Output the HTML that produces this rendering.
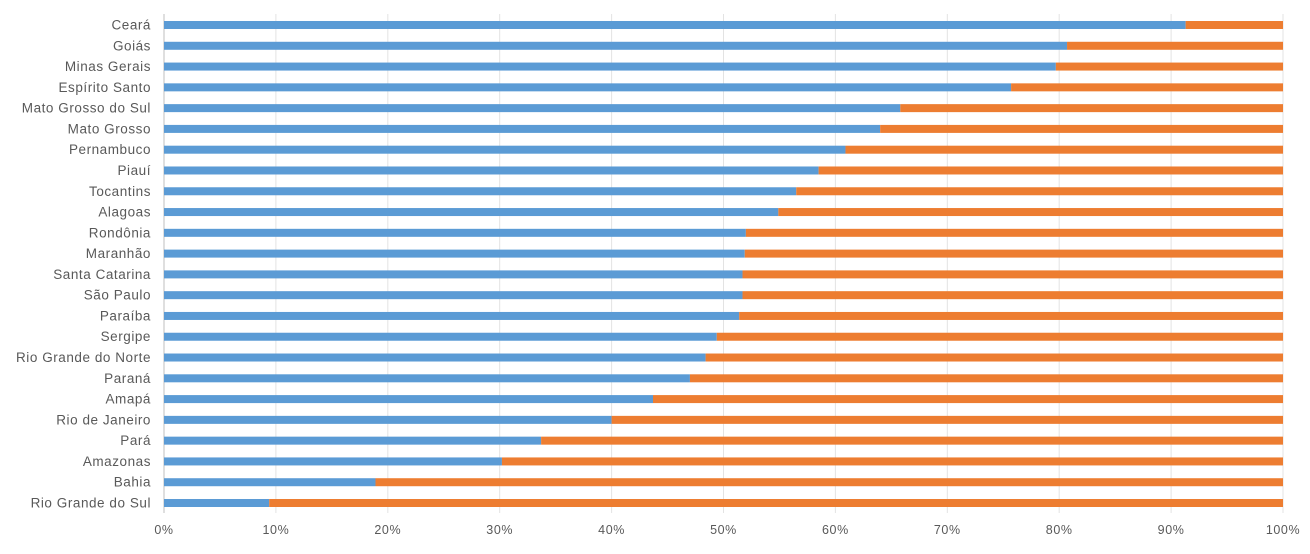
<!DOCTYPE html>
<html><head><meta charset="utf-8"><style>
body{margin:0;background:#fff;}
svg text{font-family:"Liberation Sans",sans-serif;fill:#595959;}
</style></head><body>
<svg id="chart" width="1310" height="549" xmlns="http://www.w3.org/2000/svg"></svg>
<script>
const categories=["Ceará","Goiás","Minas Gerais","Espírito Santo","Mato Grosso do Sul","Mato Grosso","Pernambuco","Piauí","Tocantins","Alagoas","Rondônia","Maranhão","Santa Catarina","São Paulo","Paraíba","Sergipe","Rio Grande do Norte","Paraná","Amapá","Rio de Janeiro","Pará","Amazonas","Bahia","Rio Grande do Sul"];
const seriesA=[91.3,80.7,79.7,75.7,65.8,64.0,60.9,58.5,56.5,54.9,52.0,51.9,51.7,51.7,51.4,49.4,48.4,47.0,43.7,40.0,33.7,30.2,18.9,9.4];
const seriesB=seriesA.map(v=>100-v);
const ticks=[0,10,20,30,40,50,60,70,80,90,100];
const tickLabels=["0%","10%","20%","30%","40%","50%","60%","70%","80%","90%","100%"];
const svg=document.getElementById('chart');
const NS='http://www.w3.org/2000/svg';
const x0=164,x1=1283,yTop=25,step=(503-25)/23,bh=8;
const xs=v=>x0+(x1-x0)*v/100;
const ys=i=>yTop+i*step;
function mk(t,a){const e=document.createElementNS(NS,t);for(const k in a)e.setAttribute(k,a[k]);svg.appendChild(e);return e;}
ticks.forEach((t,i)=>{
  const g=mk('line',{x1:xs(t),x2:xs(t),y1:14,y2:513,stroke:i===0?'#bfbfbf':'#e3e3e3','stroke-width':1});
  
  
  const tx=mk('text',{x:xs(t),y:534,'text-anchor':'middle','font-size':12.5,'letter-spacing':0.6,fill:'#7a7a7a'});
  tx.textContent=tickLabels[i];
  
  
});
categories.forEach((c,i)=>{
  const y=ys(i);
  const a=mk('rect',{x:xs(0),y:y-bh/2,width:xs(seriesA[i])-xs(0),height:bh,fill:'#5b9bd5'});
  
  
  const b=mk('rect',{x:xs(seriesA[i]),y:y-bh/2,width:xs(seriesA[i]+seriesB[i])-xs(seriesA[i]),height:bh,fill:'#ed7d31'});
  
  
  const t=mk('text',{x:151,y:y+4.5,'text-anchor':'end','font-size':13.5,'letter-spacing':0.55});
  t.textContent=c;
  
  
});
</script>
</body></html>
